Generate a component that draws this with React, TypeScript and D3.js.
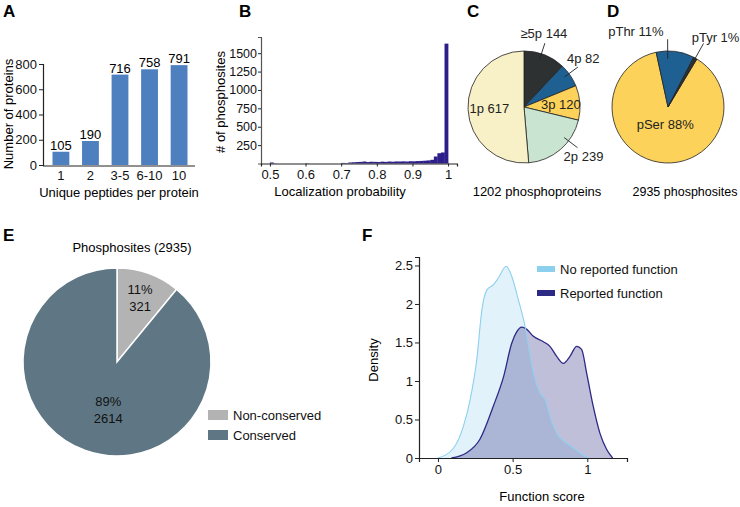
import React, { useEffect, useRef } from "react";
import * as d3 from "d3";

// panel A
const peptideBins = ["1", "2", "3-5", "6-10", "10"];
const proteinCounts = [105, 190, 716, 758, 791];

// panel B, bins of 0.01 starting at 0.50
const locBinStart = [
  0.5, 0.51, 0.52, 0.53, 0.54, 0.55, 0.56, 0.57, 0.58, 0.59,
  0.6, 0.61, 0.62, 0.63, 0.64, 0.65, 0.66, 0.67, 0.68, 0.69,
  0.7, 0.71, 0.72, 0.73, 0.74, 0.75, 0.76, 0.77, 0.78, 0.79,
  0.8, 0.81, 0.82, 0.83, 0.84, 0.85, 0.86, 0.87, 0.88, 0.89,
  0.9, 0.91, 0.92, 0.93, 0.94, 0.95, 0.96, 0.97, 0.98, 0.99,
];
const locCounts = [
  14, 2, 0, 0, 0, 0, 0, 0, 0, 0,
  3, 0, 0, 0, 0, 0, 0, 0, 0, 0,
  8, 6, 14, 17, 20, 22, 27, 20, 24, 22,
  20, 25, 22, 27, 24, 28, 27, 29, 27, 31,
  30, 33, 35, 38, 42, 50, 95, 140, 150, 1630,
];

// panel C
const peptideClass = ["≥5p", "4p", "3p", "2p", "1p"];
const proteinsPerClass = [144, 82, 120, 239, 617];

// panel D
const residue = ["pSer", "pThr", "pTyr"];
const residuePct = [88, 11, 1];

// panel E
const consClass = ["Non-conserved", "Conserved"];
const consCount = [321, 2614];
const consPct = [11, 89];

// panel F density curves
const noFuncX = [0, 0.105, 0.17, 0.216, 0.26, 0.294, 0.327, 0.372, 0.405, 0.457, 0.494, 0.539, 0.583, 0.617, 0.65, 0.684, 0.717, 0.75, 0.795, 0.84, 0.895, 0.95, 1.007];
const noFuncY = [0, 0.13, 0.41, 0.76, 1.28, 1.92, 2.18, 2.25, 2.34, 2.49, 2.36, 2.05, 1.71, 1.32, 1.02, 0.84, 0.76, 0.54, 0.32, 0.22, 0.15, 0.065, 0];
const funcX = [0.09, 0.19, 0.28, 0.37, 0.44, 0.494, 0.528, 0.561, 0.595, 0.639, 0.706, 0.75, 0.795, 0.84, 0.884, 0.929, 0.962, 0.996, 1.04, 1.085, 1.13, 1.17];
const funcY = [0, 0.065, 0.24, 0.67, 1.06, 1.49, 1.64, 1.7, 1.67, 1.58, 1.51, 1.45, 1.32, 1.23, 1.32, 1.45, 1.41, 1.1, 0.67, 0.32, 0.11, 0];

const FONT = "'Liberation Sans', Arial, sans-serif";
const AXIS = "#222";

function styleAxis(g: any) {
  g.selectAll("path").attr("stroke", AXIS).attr("stroke-width", 1.2);
  g.selectAll("line").attr("stroke", AXIS);
  g.selectAll("text").attr("font-family", FONT).attr("font-size", 13).attr("fill", "#111");
}

const App = () => {
  const ref = useRef<SVGSVGElement>(null);

  useEffect(() => {
    document.body.style.margin = "0";
    const svg = d3.select(ref.current);
    svg.selectAll("*").remove();
    svg.attr("font-family", FONT);

    const letter = (t: string, x: number, y: number) =>
      svg.append("text").attr("x", x).attr("y", y).attr("font-size", 17).attr("font-weight", "bold").text(t);

    // ---------- A ----------
    letter("A", 3, 17);
    const ax = d3.scaleBand().domain(peptideBins).range([46, 194]).paddingInner(0.43).paddingOuter(0.22);
    const ay = d3.scaleLinear().domain([0, 800]).range([165, 64]);
    const gA = svg.append("g");
    gA.selectAll("rect").data(proteinCounts).join("rect")
      .attr("x", (d, i) => ax(peptideBins[i])!)
      .attr("width", ax.bandwidth())
      .attr("y", (d) => ay(d))
      .attr("height", (d) => ay(0) - ay(d))
      .attr("fill", "#4e80c0");
    gA.selectAll("text.v").data(proteinCounts).join("text").attr("class", "v")
      .attr("x", (d, i) => ax(peptideBins[i])! + ax.bandwidth() / 2)
      .attr("y", (d) => ay(d) - 2)
      .attr("text-anchor", "middle").attr("font-size", 13).text((d) => d);
    svg.append("g").attr("transform", "translate(43,0)")
      .call(d3.axisLeft(ay).tickValues([0, 200, 400, 600, 800]).tickSizeOuter(0).tickSize(4).tickPadding(2))
      .call(styleAxis);
    svg.append("g").attr("transform", "translate(0,166)")
      .call(d3.axisBottom(ax).tickSize(0).tickPadding(5).tickSizeOuter(0))
      .call((g) => g.select("path").attr("d", "M43,0H195"))
      .call(styleAxis);
    svg.append("text").attr("x", 119).attr("y", 197).attr("text-anchor", "middle").attr("font-size", 13).text("Unique peptides per protein");
    svg.append("text").attr("transform", "translate(13,114) rotate(-90)").attr("text-anchor", "middle").attr("font-size", 13).text("Number of proteins");

    // ---------- B ----------
    letter("B", 239, 17);
    const bx = d3.scaleLinear().domain([0.475, 1.025]).range([261, 457]);
    const by = d3.scaleLinear().domain([0, 1720]).range([163.5, 37]);
    svg.append("g").selectAll("rect").data(locCounts).join("rect")
      .attr("x", (d, i) => bx(locBinStart[i]))
      .attr("width", (d, i) => bx(locBinStart[i] + 0.01) - bx(locBinStart[i]) + 0.3)
      .attr("y", (d) => by(d))
      .attr("height", (d) => by(0) - by(d))
      .attr("fill", "#2d1f8a");
    svg.append("g").attr("transform", "translate(261,0)")
      .call(d3.axisLeft(by).tickValues([250, 500, 750, 1000, 1250, 1500]).tickFormat(d3.format("d")).tickSizeOuter(0).tickSize(3).tickPadding(1))
      .call(styleAxis)
      .call((g) => g.selectAll("text").attr("font-size", 12.5))
      .call((g) => g.select("path").attr("stroke", "#555"));
    svg.append("g").attr("transform", "translate(0,163.5)")
      .call(d3.axisBottom(bx).tickValues([0.5, 0.6, 0.7, 0.8, 0.9, 1]).tickFormat((d: any) => (d === 1 ? "1" : d3.format(".1f")(d))).tickSizeOuter(0).tickSize(3).tickPadding(3))
      .call(styleAxis);
    svg.append("text").attr("x", 340).attr("y", 196).attr("text-anchor", "middle").attr("font-size", 13).text("Localization probability");
    svg.append("text").attr("transform", "translate(225,102) rotate(-90)").attr("text-anchor", "middle").attr("font-size", 13).text("# of phosphosites");

    // ---------- C ----------
    letter("C", 467, 17);
    const cR = 56;
    const cCx = 524, cCy = 107;
    const cColors = ["#2e3131", "#1f6093", "#fdd25a", "#c9e4d1", "#f8f0c7"];
    const cPie = d3.pie<number>().sort(null).value((d) => d)(proteinsPerClass);
    const cArc = d3.arc<any>().innerRadius(0).outerRadius(cR);
    const gC = svg.append("g").attr("transform", `translate(${cCx},${cCy})`);
    gC.selectAll("path").data(cPie).join("path").attr("d", cArc)
      .attr("fill", (d, i) => cColors[i]).attr("stroke", "#222").attr("stroke-width", 0.8);
    const polar = (a: number, r: number) => [Math.sin(a) * r, -Math.cos(a) * r];
    cPie.forEach((d, i) => {
      const txt = `${peptideClass[i]} ${proteinsPerClass[i]}`;
      if (i === 2 || i === 4) {
        const [x, y] = polar((d.startAngle + d.endAngle) / 2, i === 2 ? cR * 0.66 : cR * 0.62);
        gC.append("text").attr("x", x).attr("y", y + 5).attr("text-anchor", "middle").attr("font-size", 13).attr("fill", "#222").text(txt);
        return;
      }
      const a = d.startAngle + (d.endAngle - d.startAngle) * (i === 3 ? 0.33 : 0.42);
      const [x1, y1] = polar(a, cR * 0.9);
      const [x2, y2] = polar(a, cR * 1.2);
      gC.append("line").attr("x1", x1).attr("y1", y1).attr("x2", x2).attr("y2", y2).attr("stroke", "#222").attr("stroke-width", 0.9);
      const t = gC.append("text").attr("font-size", 13).attr("fill", "#222").text(txt);
      if (i === 0) t.attr("x", x2 - 1).attr("y", y2 - 5).attr("text-anchor", "middle");
      if (i === 1) t.attr("x", x2 - 11).attr("y", y2 - 4).attr("text-anchor", "start");
      if (i === 3) t.attr("x", x2 + 6).attr("y", y2 + 13).attr("text-anchor", "middle");
    });
    svg.append("text").attr("x", 537).attr("y", 196).attr("text-anchor", "middle").attr("font-size", 13).text("1202 phosphoproteins");

    // ---------- D ----------
    letter("D", 607, 17);
    const dR = 56;
    const dColors = ["#fdd25a", "#1f6093", "#2e3131"];
    const dStart = (31 * Math.PI) / 180;
    const dPie = d3.pie<number>().sort(null).value((d) => d).startAngle(dStart).endAngle(dStart + 2 * Math.PI)(residuePct);
    const dArc = d3.arc<any>().innerRadius(0).outerRadius(dR);
    const gD = svg.append("g").attr("transform", "translate(668,107)");
    gD.selectAll("path").data(dPie).join("path").attr("d", dArc)
      .attr("fill", (d, i) => dColors[i]).attr("stroke", "#222").attr("stroke-width", 0.8);
    dPie.forEach((d, i) => {
      const txt = `${residue[i]} ${residuePct[i]}%`;
      if (i === 0) {
        const [x, y] = polar((d.startAngle + d.endAngle) / 2, dR * 0.3);
        gD.append("text").attr("x", x).attr("y", y + 5).attr("text-anchor", "middle").attr("font-size", 13).attr("fill", "#222").text(txt);
        return;
      }
      const a = i === 1 ? d.startAngle + (d.endAngle - d.startAngle) * 0.3 : (d.startAngle + d.endAngle) / 2;
      const [x1, y1] = polar(a, i === 1 ? dR * 0.86 : dR * 0.95);
      const [x2, y2] = polar(a, i === 1 ? dR * 1.21 : dR * 1.3);
      gD.append("line").attr("x1", x1).attr("y1", y1).attr("x2", x2).attr("y2", y2).attr("stroke", "#222").attr("stroke-width", 0.9);
      const t = gD.append("text").attr("font-size", 13).attr("fill", "#222").text(txt);
      if (i === 1) t.attr("x", x2 - 4).attr("y", y2 - 3).attr("text-anchor", "end");
      if (i === 2) t.attr("x", x2 + 12).attr("y", y2 - 1).attr("text-anchor", "middle");
    });
    svg.append("text").attr("x", 685).attr("y", 196).attr("text-anchor", "middle").attr("font-size", 12.5).text("2935 phosphosites");

    // ---------- E ----------
    letter("E", 3, 241);
    svg.append("text").attr("x", 132).attr("y", 252).attr("text-anchor", "middle").attr("font-size", 13).text("Phosphosites (2935)");
    const eR = 94;
    const eColors = ["#b4b3b4", "#5f7785"];
    const ePie = d3.pie<number>().sort(null).value((d) => d)(consCount);
    const eArc = d3.arc<any>().innerRadius(0).outerRadius(eR);
    const gE = svg.append("g").attr("transform", "translate(117,362)");
    gE.selectAll("path").data(ePie).join("path").attr("d", eArc)
      .attr("fill", (d, i) => eColors[i]).attr("stroke", "#fff").attr("stroke-width", 1.5);
    ePie.forEach((d, i) => {
      const a = (d.startAngle + d.endAngle) / 2 - (i === 1 ? 0.16 : 0);
      const [x, y] = polar(a, i === 0 ? eR * 0.73 : eR * 0.51);
      const t = gE.append("text").attr("text-anchor", "middle").attr("font-size", 13).attr("fill", "#111");
      t.append("tspan").attr("x", x).attr("y", y - 3).text(`${consPct[i]}%`);
      t.append("tspan").attr("x", x).attr("y", y + 14).text(consCount[i]);
    });
    const gEl = svg.append("g").attr("transform", "translate(208,410)");
    consClass.forEach((c, i) => {
      gEl.append("rect").attr("x", 0).attr("y", i * 20).attr("width", 20).attr("height", 10).attr("fill", eColors[i]);
      gEl.append("text").attr("x", 25).attr("y", i * 20 + 10).attr("font-size", 13).attr("fill", "#111").text(c);
    });

    // ---------- F ----------
    letter("F", 362, 241);
    const fx = d3.scaleLinear().domain([-0.127, 1.266]).range([419, 627]);
    const fy = d3.scaleLinear().domain([0, 2.61]).range([458, 257]);
    const area = d3.area<[number, number]>().x((d) => fx(d[0])).y0(fy(0)).y1((d) => fy(d[1])).curve(d3.curveMonotoneX);
    const line = d3.line<[number, number]>().x((d) => fx(d[0])).y((d) => fy(d[1])).curve(d3.curveMonotoneX);
    const noFunc = noFuncX.map((x, i) => [x, noFuncY[i]] as [number, number]);
    const func = funcX.map((x, i) => [x, funcY[i]] as [number, number]);
    const gF = svg.append("g");
    gF.append("path").datum(noFunc).attr("d", area).attr("fill", "#8fd0ee").attr("fill-opacity", 0.27);
    gF.append("path").datum(func).attr("d", area).attr("fill", "#2d2a86").attr("fill-opacity", 0.3);
    gF.append("path").datum(func).attr("d", line).attr("fill", "none").attr("stroke", "#2d2a86").attr("stroke-width", 1.3);
    gF.append("path").datum(noFunc).attr("d", line).attr("fill", "none").attr("stroke", "#8dd0ee").attr("stroke-width", 1.1);
    svg.append("g").attr("transform", "translate(419,0)")
      .call(d3.axisLeft(fy).tickValues([0, 0.5, 1, 1.5, 2, 2.5]).tickFormat((d: any) => String(d)).tickSizeOuter(0).tickSize(4).tickPadding(2))
      .call(styleAxis);
    svg.append("g").attr("transform", "translate(0,458)")
      .call(d3.axisBottom(fx).tickValues([0, 0.5, 1]).tickFormat((d: any) => String(d)).tickSizeOuter(0).tickSize(4).tickPadding(3))
      .call(styleAxis);
    svg.append("text").attr("x", 542).attr("y", 501).attr("text-anchor", "middle").attr("font-size", 13).text("Function score");
    svg.append("text").attr("transform", "translate(378,360) rotate(-90)").attr("text-anchor", "middle").attr("font-size", 13).text("Density");
    const fLegend = [["No reported function", "#8dd0ee"], ["Reported function", "#2d2a86"]];
    fLegend.forEach(([t, c], i) => {
      svg.append("rect").attr("x", 537).attr("y", 266 + i * 24).attr("width", 18).attr("height", 6).attr("fill", c);
      svg.append("text").attr("x", 560).attr("y", 274 + i * 24).attr("font-size", 13).attr("fill", "#111").text(t);
    });
  }, []);

  return <svg ref={ref} width={740} height={507} style={{ display: "block", background: "#fff" }} />;
};

export default App;
